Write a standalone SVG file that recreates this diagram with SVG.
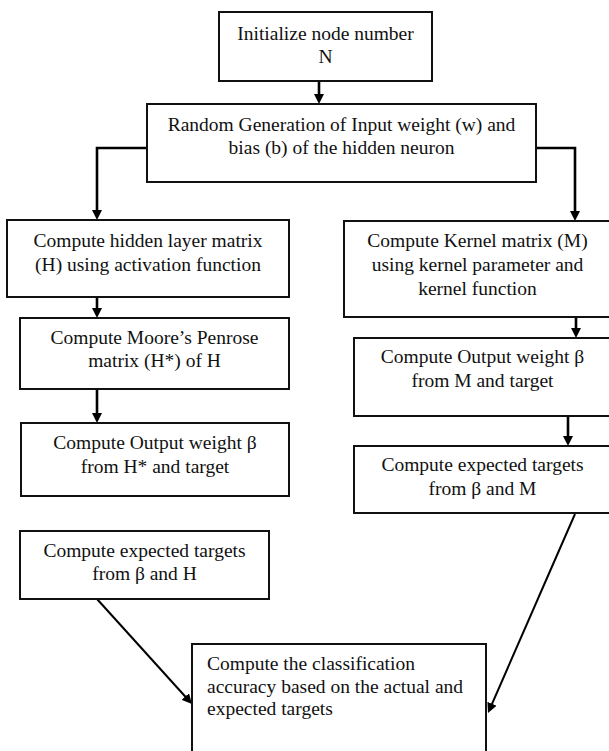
<svg xmlns="http://www.w3.org/2000/svg" width="609" height="751" viewBox="0 0 609 751">
<style>
  .box { fill: #fff; stroke: #111; stroke-width: 2; }
  .t { font-family: "Liberation Serif", "Times New Roman", serif; font-size: 19.5px; fill: #111; text-anchor: middle; }
  .tl { text-anchor: start; }
  .c { fill: none; stroke: #000; stroke-width: 2.6; marker-end: url(#ah); }
  .d { stroke-width: 2; }
</style>
<defs>
  <marker id="ah" viewBox="0 0 10 10" refX="6" refY="5" markerWidth="10" markerHeight="10" markerUnits="userSpaceOnUse" orient="auto">
    <path d="M0,0 L10,5 L0,10 z" fill="#000"/>
  </marker>
</defs>
<rect width="609" height="751" fill="#fff"/>
<g id="connectors">
  <path class="c" d="M319,81 V100"/>
  <path class="c" d="M147,148 H97 V216"/>
  <path class="c" d="M536,148 H575 V217"/>
  <path class="c" d="M97,297 V314"/>
  <path class="c" d="M97,389 V419"/>
  <path class="c" d="M576,317 V334"/>
  <path class="c" d="M568,416 V442"/>
  <path class="c d" d="M97,599 L189.3,701"/>
  <path class="c d" d="M575,514 L489.6,709.3"/>
</g>
<g id="n1">
  <rect class="box" x="219" y="12" width="213" height="69"/>
  <text class="t" x="325.5" y="40">Initialize node number</text>
  <text class="t" x="325.5" y="63">N</text>
</g>
<g id="n2">
  <rect class="box" x="147" y="104" width="389" height="78"/>
  <text class="t" x="341.5" y="130.5">Random Generation of Input weight (w) and</text>
  <text class="t" x="341.5" y="154">bias (b) of the hidden neuron</text>
</g>
<g id="n3">
  <rect class="box" x="7" y="220" width="282" height="77"/>
  <text class="t" x="148" y="247">Compute hidden layer matrix</text>
  <text class="t" x="148" y="271">(H) using activation function</text>
</g>
<g id="n4">
  <rect class="box" x="20" y="318" width="269" height="71"/>
  <text class="t" x="154.5" y="344">Compute Moore’s Penrose</text>
  <text class="t" x="154.5" y="367">matrix (H*) of H</text>
</g>
<g id="n5">
  <rect class="box" x="21" y="423" width="268" height="73"/>
  <text class="t" x="155" y="449">Compute Output weight β</text>
  <text class="t" x="155" y="473">from H* and target</text>
</g>
<g id="n6">
  <rect class="box" x="20" y="531" width="249" height="68"/>
  <text class="t" x="144.5" y="557">Compute expected targets</text>
  <text class="t" x="144.5" y="580">from β and H</text>
</g>
<g id="n7">
  <rect class="box" x="344" y="221" width="267" height="96"/>
  <text class="t" x="477.5" y="247">Compute Kernel matrix (M)</text>
  <text class="t" x="477.5" y="271">using kernel parameter and</text>
  <text class="t" x="477.5" y="295">kernel function</text>
</g>
<g id="n8">
  <rect class="box" x="354" y="338" width="257" height="78"/>
  <text class="t" x="482.5" y="363">Compute Output weight β</text>
  <text class="t" x="482.5" y="387">from M and target</text>
</g>
<g id="n9">
  <rect class="box" x="354" y="446" width="257" height="67"/>
  <text class="t" x="482.5" y="471">Compute expected targets</text>
  <text class="t" x="482.5" y="495">from β and M</text>
</g>
<g id="n10">
  <rect class="box" x="192" y="644" width="294" height="120"/>
  <text class="t tl" x="207" y="670">Compute the classification</text>
  <text class="t tl" x="207" y="693">accuracy based on the actual and</text>
  <text class="t tl" x="207" y="715">expected targets</text>
</g>
</svg>
